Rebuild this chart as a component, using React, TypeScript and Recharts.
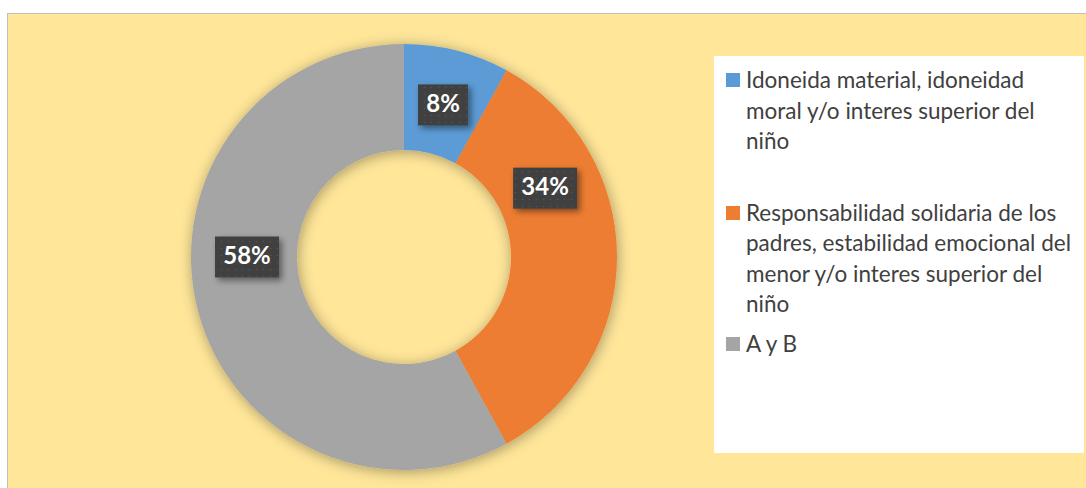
import React from 'react';
import { PieChart, Pie, Cell, Legend } from 'recharts';

const categories = [
  'Idoneida material, idoneidad moral y/o interes superior del niño',
  'Responsabilidad solidaria de los padres, estabilidad emocional del menor y/o interes superior del niño',
  'A y B',
];
const percentages = [8, 34, 58];
const sliceColors = ['#5B9BD5', '#ED7D31', '#A5A5A5'];

// label nudges (degrees) so boxes sit where the original put them
const labelAngleShift = [0, 26, -14.4];
// space below each legend entry
const legendGaps = [41, 9, 0];

const data = categories.map((name, i) => ({ name, value: percentages[i] }));

const RAD = Math.PI / 180;
const FONT = 'Lato, "Open Sans", sans-serif';

const renderLabel = (props: any) => {
  const { cx, cy, midAngle, innerRadius, outerRadius, index, value } = props;
  const angle = midAngle + labelAngleShift[index];
  const r = (innerRadius + outerRadius) / 2 - 3;
  const x = cx + r * Math.cos(-angle * RAD);
  const y = cy + r * Math.sin(-angle * RAD);
  const text = `${value}%`;
  const w = 14 * text.length + 22;
  const h = 41;
  return (
    <g key={`lbl-${index}`}>
      <rect x={x - w / 2} y={y - h / 2} width={w} height={h} fill="#404040" filter="url(#lblShadow)" />
      <rect x={x - w / 2} y={y - h / 2} width={w} height={h} fill="url(#dots)" />
      <text
        x={x}
        y={y + 1}
        fill="#ffffff"
        textAnchor="middle"
        dominantBaseline="middle"
        style={{ fontFamily: FONT, fontWeight: 700, fontSize: 24 }}
      >
        {text}
      </text>
    </g>
  );
};

// drawn from the arrays so the order stays as in the data
const renderLegend = () => (
  <div
    style={{
      background: '#ffffff',
      width: 370,
      height: 397,
      boxSizing: 'border-box',
      padding: '9px 4px 0 12px',
      fontFamily: FONT,
      fontSize: 22.5,
      lineHeight: '30.5px',
      color: '#404040',
    }}
  >
    {categories.map((name, i) => (
      <div key={i} style={{ display: 'flex', alignItems: 'flex-start', marginBottom: legendGaps[i] }}>
        <span
          style={{
            display: 'inline-block',
            width: 14,
            height: 14,
            background: sliceColors[i],
            marginTop: 8,
            marginRight: 6,
            flexShrink: 0,
          }}
        />
        <span style={{ width: 329 }}>{name}</span>
      </div>
    ))}
  </div>
);

export default function App() {
  return (
    <div style={{ position: 'absolute', left: 7, top: 13 }}>
      <style>{`.recharts-pie { filter: url(#pieShadow); }`}</style>
      <svg width={0} height={0} style={{ position: 'absolute' }}>
        <defs>
          <filter id="pieShadow" x="-20%" y="-20%" width="140%" height="140%">
            <feDropShadow dx={1} dy={2} stdDeviation={7} floodColor="#000" floodOpacity={0.35} />
          </filter>
          <filter id="lblShadow" x="-30%" y="-30%" width="160%" height="160%">
            <feDropShadow dx={3} dy={3} stdDeviation={3} floodColor="#000" floodOpacity={0.45} />
          </filter>
          <pattern id="dots" width={7} height={7} patternUnits="userSpaceOnUse">
            <circle cx={3.5} cy={3.5} r={0.8} fill="#555555" />
          </pattern>
        </defs>
      </svg>
      <div
        style={{
          width: 1090,
          height: 490,
          border: '1px solid #BFBFBF',
          background: '#FFE699',
        }}
      >
        <PieChart width={1090} height={490} margin={{ top: 0, right: 0, bottom: 0, left: 0 }}>
          <Pie
            data={data}
            dataKey="value"
            nameKey="name"
            cx={396}
            cy={243}
            innerRadius={107}
            outerRadius={213}
            startAngle={90}
            endAngle={-270}
            stroke="none"
            label={renderLabel}
            labelLine={false}
            isAnimationActive={false}
          >
            {data.map((_, i) => (
              <Cell key={i} fill={sliceColors[i]} />
            ))}
          </Pie>
          <Legend
            layout="vertical"
            align="right"
            verticalAlign="top"
            content={renderLegend}
            wrapperStyle={{ position: 'absolute', left: 706, top: 42, width: 370, height: 397 }}
          />
        </PieChart>
      </div>
    </div>
  );
}
